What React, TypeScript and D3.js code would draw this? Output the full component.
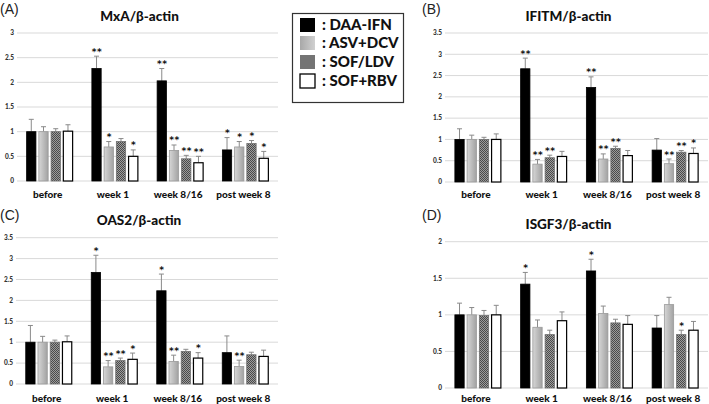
import React from "react";
import * as d3 from "d3";

const categories = ["before", "week 1", "week 8/16", "post week 8"];
const seriesNames = ["DAA-IFN", "ASV+DCV", "SOF/LDV", "SOF+RBV"];

// rows = categories, columns = series
const mxaMean = [[1, 1, 1, 1.01], [2.28, 0.69, 0.8, 0.5], [2.03, 0.62, 0.45, 0.37], [0.63, 0.69, 0.76, 0.46]];
const mxaErr = [[1.25, 1.1, 1.06, 1.14], [2.53, 0.8, 0.86, 0.63], [2.28, 0.73, 0.52, 0.5], [0.88, 0.8, 0.82, 0.6]];
const mxaSig = [["", "", "", ""], ["**", "*", "", "*"], ["**", "**", "**", "**"], ["*", "*", "*", "*"]];

const ifitmMean = [[1, 1, 1, 1], [2.66, 0.42, 0.57, 0.6], [2.22, 0.54, 0.79, 0.62], [0.75, 0.43, 0.7, 0.67]];
const ifitmErr = [[1.25, 1.1, 1.05, 1.13], [2.91, 0.53, 0.63, 0.72], [2.47, 0.66, 0.84, 0.74], [1.02, 0.54, 0.74, 0.8]];
const ifitmSig = [["", "", "", ""], ["**", "**", "**", ""], ["**", "**", "**", ""], ["", "**", "**", "*"]];

const oas2Mean = [[1, 1, 1, 1.01], [2.67, 0.41, 0.56, 0.59], [2.23, 0.54, 0.78, 0.62], [0.75, 0.42, 0.7, 0.66]];
const oas2Err = [[1.4, 1.14, 1.05, 1.15], [3.08, 0.56, 0.62, 0.74], [2.63, 0.69, 0.83, 0.75], [1.15, 0.57, 0.76, 0.81]];
const oas2Sig = [["", "", "", ""], ["*", "**", "**", "*"], ["*", "**", "", "*"], ["", "**", "", ""]];

const isgf3Mean = [[1, 1, 0.99, 1], [1.42, 0.83, 0.73, 0.92], [1.6, 1.02, 0.89, 0.87], [0.82, 1.14, 0.73, 0.79]];
const isgf3Err = [[1.16, 1.1, 1.06, 1.13], [1.58, 0.93, 0.79, 1.04], [1.76, 1.12, 0.94, 0.99], [0.99, 1.24, 0.79, 0.91]];
const isgf3Sig = [["", "", "", ""], ["*", "", "", ""], ["*", "", "", ""], ["", "", "*", ""]];

const ticksA = [0, 0.5, 1, 1.5, 2, 2.5, 3];
const ticksB = [0, 0.5, 1, 1.5, 2, 2.5, 3, 3.5];
const ticksD = [0, 0.5, 1, 1.5, 2];

const FONT = "Lato, 'Open Sans', sans-serif";

const fills = ["#000000", "url(#gradGray)", "url(#patDots)", "#ffffff"];
const strokes = ["#000000", "#9a9a9a", "#707070", "#000000"];

type PanelProps = {
  letter: string;
  letterX: number;
  letterY: number;
  title: string;
  x0: number;
  x1: number;
  yBottom: number;
  yTop: number;
  tickVals: number[];
  mean: number[][];
  err: number[][];
  sig: string[][];
  titleY: number;
  labelY: number;
};

function Panel(p: PanelProps) {
  const yMax = p.tickVals[p.tickVals.length - 1];
  const y = d3.scaleLinear().domain([0, yMax]).range([p.yBottom, p.yTop]);
  const x = d3.scaleBand<string>().domain(categories).range([p.x0, p.x1]).paddingInner(0).paddingOuter(0);
  const inner = d3.scaleBand<string>().domain(seriesNames).range([-23, 23]).paddingInner(0.24);
  const bw = inner.bandwidth();
  const fmt = (v: number) => (v === 0 ? "0" : String(v));
  return (
    <g>
      <text x={p.letterX} y={p.letterY} fontFamily="'Liberation Sans', Arial, sans-serif" fontSize={14} fill="#222">{p.letter}</text>
      <text x={(p.x0 + p.x1) / 2 - 8} y={p.titleY} textAnchor="middle" fontFamily={FONT} fontWeight="900" fontSize={13.5} fill="#111">{p.title}</text>
      {p.tickVals.map((t) => (
        <g key={t}>
          <line x1={p.x0} x2={p.x1} y1={y(t)} y2={y(t)} stroke="#d9d9d9" strokeWidth={1} />
          <text x={p.x0 - 3} y={y(t)} dy="0.35em" textAnchor="end" fontFamily={FONT} fontWeight="900" fontSize={6.5} fill="#333">{fmt(t)}</text>
        </g>
      ))}
      {categories.map((c, ci) => {
        const cx = (x(c) as number) + x.bandwidth() / 2;
        return (
          <g key={c}>
            {seriesNames.map((s, si) => {
              const bx = cx + (inner(s) as number);
              const v = p.mean[ci][si];
              const e = p.err[ci][si];
              const mid = bx + bw / 2;
              const sg = p.sig[ci][si];
              return (
                <g key={s}>
                  <line x1={mid} x2={mid} y1={y(v)} y2={y(e)} stroke="#8a8a8a" strokeWidth={1} />
                  <line x1={mid - 2.5} x2={mid + 2.5} y1={y(e)} y2={y(e)} stroke="#8a8a8a" strokeWidth={1} />
                  <rect x={bx} y={y(v)} width={bw} height={y(0) - y(v)} fill={fills[si]} stroke={strokes[si]} strokeWidth={si === 3 ? 1.2 : 0.8} />
                  {sg && (
                    <text x={mid + 0.5} y={y(e) - 1.5} textAnchor="middle" fontFamily="'DejaVu Sans', sans-serif" fontWeight="bold" fontSize={9} letterSpacing={0.5} fill="#111">{sg}</text>
                  )}
                </g>
              );
            })}
            <text x={cx - 2} y={p.labelY} textAnchor="middle" fontFamily={FONT} fontWeight="900" fontSize={10} fill="#111">{c}</text>
          </g>
        );
      })}
    </g>
  );
}

export default function App() {
  const legendRows = [30, 48, 67, 86];
  return (
    <svg width={709} height={404} style={{ position: "absolute", left: 0, top: 0, background: "#fff" }}>
      <defs>
        <linearGradient id="gradGray" x1="0" y1="0" x2="1" y2="0">
          <stop offset="0" stopColor="#d6d6d6" />
          <stop offset="1" stopColor="#a2a2a2" />
        </linearGradient>
        <linearGradient id="gradGrayLeg" x1="0" y1="0" x2="1" y2="0">
          <stop offset="0" stopColor="#a8a8a8" />
          <stop offset="1" stopColor="#d0d0d0" />
        </linearGradient>
        <pattern id="patDots" width={2} height={2} patternUnits="userSpaceOnUse">
          <rect width={2} height={2} fill="#9c9c9c" />
          <rect width={1} height={1} fill="#4a4a4a" />
          <rect x={1} y={1} width={1} height={1} fill="#4a4a4a" />
        </pattern>
      </defs>
      <rect width={709} height={404} fill="#fff" />
      <Panel letter="(A)" letterX={0} letterY={14} title="MxA/β-actin" x0={17} x1={278} yBottom={181} yTop={33} tickVals={ticksA}
        mean={mxaMean} err={mxaErr} sig={mxaSig} titleY={21} labelY={198} />
      <Panel letter="(B)" letterX={422} letterY={14} title="IFITM/β-actin" x0={445} x1={708} yBottom={182} yTop={33} tickVals={ticksB}
        mean={ifitmMean} err={ifitmErr} sig={ifitmSig} titleY={21} labelY={198} />
      <Panel letter="(C)" letterX={0} letterY={220} title="OAS2/β-actin" x0={16} x1={278} yBottom={384} yTop={237.7} tickVals={ticksB}
        mean={oas2Mean} err={oas2Err} sig={oas2Sig} titleY={225} labelY={402} />
      <Panel letter="(D)" letterX={422} letterY={220} title="ISGF3/β-actin" x0={445} x1={708} yBottom={388} yTop={241.7} tickVals={ticksD}
        mean={isgf3Mean} err={isgf3Err} sig={isgf3Sig} titleY={229} labelY={402} />
      <g>
        <rect x={292.5} y={13.5} width={111} height={89} fill="#fff" stroke="#333" strokeWidth={1.2} />
        {seriesNames.map((s, i) => (
          <g key={s}>
            <rect x={300} y={legendRows[i] - 12} width={15} height={14}
              fill={i === 0 ? "#000" : i === 1 ? "url(#gradGrayLeg)" : i === 2 ? "#747474" : "#fff"}
              stroke={i === 3 ? "#000" : "none"} strokeWidth={1.3} />
            <text x={322} y={legendRows[i]} fontFamily={FONT} fontWeight="900" fontSize={15} fill="#111">{": " + s}</text>
          </g>
        ))}
      </g>
    </svg>
  );
}
